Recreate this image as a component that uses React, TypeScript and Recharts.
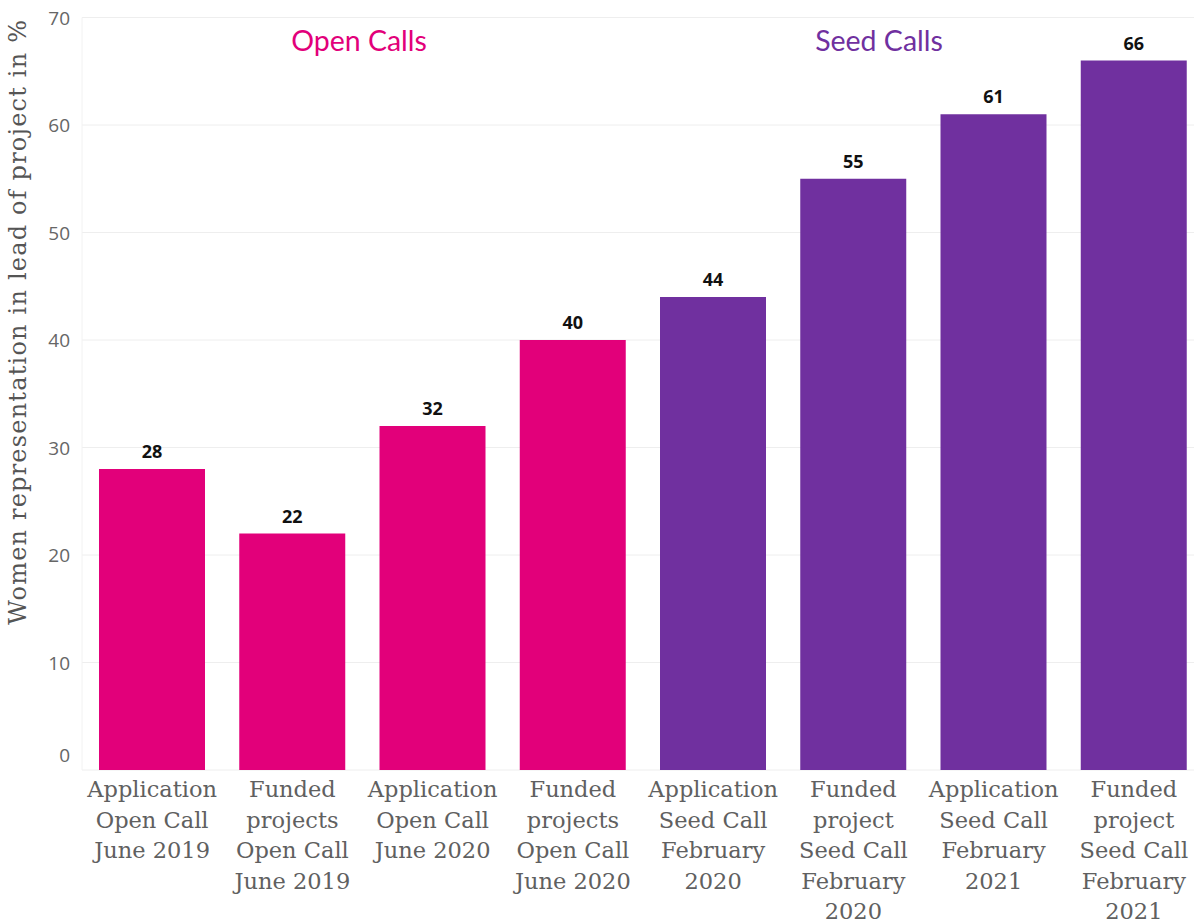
import React from "react";
import { BarChart, Bar, XAxis, YAxis, CartesianGrid, Cell, LabelList } from "recharts";

const categories = [
  "Application\nOpen Call\nJune 2019",
  "Funded\nprojects\nOpen Call\nJune 2019",
  "Application\nOpen Call\nJune 2020",
  "Funded\nprojects\nOpen Call\nJune 2020",
  "Application\nSeed Call\nFebruary\n2020",
  "Funded\nproject\nSeed Call\nFebruary\n2020",
  "Application\nSeed Call\nFebruary\n2021",
  "Funded\nproject\nSeed Call\nFebruary\n2021",
];
const values = [28, 22, 32, 40, 44, 55, 61, 66];
const groups = ["open", "open", "open", "open", "seed", "seed", "seed", "seed"];
const yTicks = [0, 10, 20, 30, 40, 50, 60, 70];

const PINK = "#e2007a";
const PURPLE = "#70309f";
const SLAB = "'DejaVu Serif', serif";

const data = categories.map((c, i) => ({ name: c, value: values[i], group: groups[i] }));

function XTick({ x, y, payload }: any) {
  const lines = String(payload.value).split("\n");
  return (
    <text x={x} y={y} textAnchor="middle" fill="#606060" fontFamily={SLAB} fontSize={22.5}>
      {lines.map((l, i) => (
        <tspan key={i} x={x} dy={i === 0 ? 19 : 30.5}>
          {l}
        </tspan>
      ))}
    </text>
  );
}

function YTick({ x, y, payload }: any) {
  const shift = payload.value === 0 ? -15 : 0;
  return (
    <text x={x} y={y + shift} dy={7} textAnchor="end" fill="#666" fontFamily="'Open Sans', sans-serif" fontSize={19}>
      {payload.value}
    </text>
  );
}

function AxisTitle({ viewBox }: any) {
  const cy = viewBox.y + viewBox.height / 2 - 72;
  return (
    <text
      x={26}
      y={cy}
      transform={`rotate(-90, 26, ${cy})`}
      textAnchor="middle"
      fill="#555"
      fontFamily={SLAB}
      fontSize={24}
      letterSpacing={1.2}
    >
      Women representation in lead of project in %
    </text>
  );
}

export default function App() {
  return (
    <div style={{ position: "fixed", left: 0, top: 0, width: 1194, height: 922, overflow: "hidden", background: "#fff" }}>
      <BarChart width={1204} height={922} data={data} margin={{ top: 17.5, right: 0, bottom: 0, left: 0 }} barSize={106}>
        <CartesianGrid vertical={false} stroke="#eeeeee" />
        <XAxis dataKey="name" interval={0} height={152} axisLine={false} tickLine={false} tick={<XTick />} />
        <YAxis
          domain={[0, 70]}
          ticks={yTicks}
          width={82}
          axisLine={{ stroke: "#f2f2f2" }}
          tickLine={false}
          tickMargin={6}
          tick={<YTick />}
          label={<AxisTitle />}
        />
        <Bar dataKey="value" isAnimationActive={false}>
          {data.map((d, i) => (
            <Cell key={i} fill={d.group === "open" ? PINK : PURPLE} />
          ))}
          <LabelList
            dataKey="value"
            position="top"
            offset={11}
            fill="#111"
            fontSize={18}
            fontWeight="bold"
            fontFamily="'Open Sans', sans-serif"
          />
        </Bar>
      </BarChart>
      <div style={{ position: "absolute", left: 359, top: 40, transform: "translate(-50%, -50%)", color: PINK, fontFamily: "Lato, sans-serif", fontSize: 28.5, whiteSpace: "nowrap" }}>
        Open Calls
      </div>
      <div style={{ position: "absolute", left: 879, top: 40, transform: "translate(-50%, -50%)", color: PURPLE, fontFamily: "Lato, sans-serif", fontSize: 28.5, whiteSpace: "nowrap" }}>
        Seed Calls
      </div>
    </div>
  );
}
